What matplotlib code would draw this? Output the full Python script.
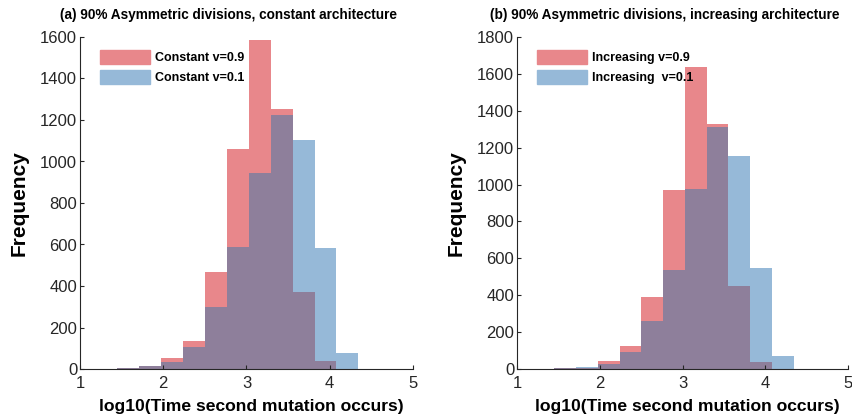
import matplotlib.pyplot as plt
import matplotlib.patches as mpatches
import numpy as np

plt.rcParams['font.family'] = ['Liberation Sans', 'DejaVu Sans']

# histogram bins of log10(time)
bin_edges = [1.45, 1.713, 1.976, 2.239, 2.502, 2.765, 3.028, 3.291, 3.554, 3.817, 4.08, 4.343]

# (a) constant architecture
const_09 = [4, 15, 51, 135, 469, 1061, 1587, 1251, 371, 40, 0]
const_01 = [6, 15, 35, 108, 300, 590, 944, 1222, 1106, 582, 76]

# (b) increasing architecture
incr_09 = [3, 6, 42, 123, 388, 973, 1637, 1327, 448, 38, 0]
incr_01 = [4, 11, 29, 94, 262, 536, 978, 1310, 1157, 545, 70]

red = '#e8878b'
blue = '#96b9d8'
mix = '#8e7f9b'
ink = '#262626'

fig = plt.figure(figsize=(8.52, 4.15), dpi=100)
ax1 = fig.add_axes([80 / 852, 46 / 415, 333 / 852, 332 / 415])
ax2 = fig.add_axes([517 / 852, 46 / 415, 331 / 852, 332 / 415])

panels = [
    (ax1, const_09, const_01, 1600, '(a) 90% Asymmetric divisions, constant architecture',
     ['Constant v=0.9', 'Constant v=0.1']),
    (ax2, incr_09, incr_01, 1800, '(b) 90% Asymmetric divisions, increasing architecture',
     ['Increasing v=0.9', 'Increasing  v=0.1']),
]

edges = np.array(bin_edges)
left = edges[:-1]
width = np.diff(edges)

for ax, hi, lo, ytop, title, labels in panels:
    hi = np.array(hi)
    lo = np.array(lo)
    ax.bar(left, hi, width=width, align='edge', color=red, linewidth=0)
    ax.bar(left, lo, width=width, align='edge', color=blue, linewidth=0)
    ax.bar(left, np.minimum(hi, lo), width=width, align='edge', color=mix, linewidth=0)

    ax.set_xlim(1, 5)
    ax.set_ylim(0, ytop)
    ax.set_xticks([1, 2, 3, 4, 5])
    ax.set_yticks(np.arange(0, ytop + 1, 200))
    for s in ['top', 'right']:
        ax.spines[s].set_visible(False)
    for s in ['left', 'bottom']:
        ax.spines[s].set_color(ink)
        ax.spines[s].set_linewidth(0.8)
    ax.tick_params(direction='in', length=3, width=0.8, colors=ink, labelsize=12)
    ax.tick_params(axis='x', pad=5)
    ax.tick_params(axis='y', pad=2)

    ax.set_title(title, fontsize=9.8, fontweight='bold', pad=13, x=0.445)
    ax.set_ylabel('Frequency', fontsize=15, fontweight='bold', labelpad=8)
    ax.set_xlabel('log10(Time second mutation occurs)', fontsize=12.6, fontweight='bold',
                  labelpad=6, x=0.515)

    handles = [mpatches.Patch(color=red, label=labels[0]),
               mpatches.Patch(color=blue, label=labels[1])]
    ax.legend(handles=handles, loc='upper left', bbox_to_anchor=(0.025, 0.995),
              frameon=False, handlelength=4.0, handleheight=1.3,
              handletextpad=0.45, labelspacing=0.5,
              prop={'size': 9, 'weight': 'bold'})

fig.savefig('out.png', dpi=100)
